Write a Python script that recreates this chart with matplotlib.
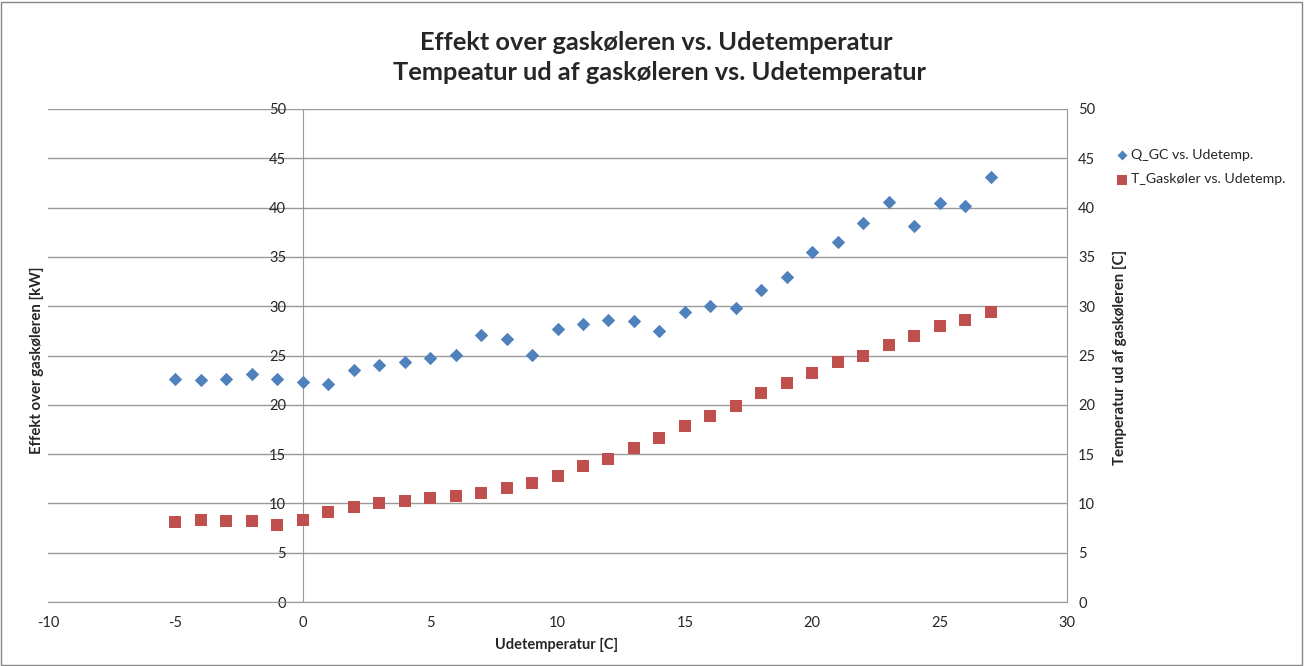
import numpy as np
import matplotlib
matplotlib.use("Agg")
import matplotlib.pyplot as plt
from matplotlib.patches import Rectangle

plt.rcParams['font.family'] = ['Lato', 'DejaVu Sans']
plt.rcParams['axes.unicode_minus'] = False

# Udetemperatur [C]
udetemp = list(range(-5, 28))

# Effekt over gaskøleren [kW]
q_gc = [22.6, 22.5, 22.6, 23.1, 22.6, 22.3, 22.1, 23.5, 24.0, 24.3, 24.7,
        25.1, 27.1, 26.7, 25.1, 27.7, 28.2, 28.6, 28.5, 27.5, 29.4, 30.0,
        29.8, 31.6, 33.0, 35.5, 36.5, 38.4, 40.6, 38.1, 40.5, 40.2, 43.1]

# Temperatur ud af gaskøleren [C]
t_gaskoler = [8.1, 8.3, 8.2, 8.2, 7.8, 8.3, 9.1, 9.6, 10.0, 10.2, 10.5,
              10.8, 11.1, 11.6, 12.1, 12.8, 13.8, 14.5, 15.6, 16.6, 17.8, 18.9,
              19.9, 21.2, 22.2, 23.2, 24.3, 25.0, 26.1, 27.0, 28.0, 28.6, 29.4]

xticks = np.arange(-10, 31, 5)
yticks = np.arange(0, 51, 5)

blaa = '#4F81BD'
roed = '#C0504D'
gitter = '#9a9a9a'
tekst = '#262626'

W, H = 1304, 666
fig = plt.figure(figsize=(W / 100, H / 100), dpi=100)
ax = fig.add_axes([48 / W, 1 - 602 / H, (1067 - 48) / W, (602 - 109) / H])
ax2 = ax.twinx()

ax.scatter(udetemp, q_gc, marker='D', s=6.8 ** 2, color=blaa, zorder=3,
           linewidths=0, label='Q_GC vs. Udetemp.')
ax2.scatter(udetemp, t_gaskoler, marker='s', s=9.2 ** 2, color=roed, zorder=3,
            linewidths=0, label='T_Gaskøler vs. Udetemp.')

for a in (ax, ax2):
    a.set_xlim(-10, 30)
    a.set_ylim(0, 50)
    a.set_yticks(yticks)
    a.tick_params(length=0, labelsize=10.5, labelcolor=tekst)
    for s in a.spines.values():
        s.set_visible(False)

ax.set_xticks(xticks)
ax.yaxis.grid(True, color=gitter, lw=1)
ax.set_axisbelow(True)

# venstre akse krydser ved x = 0
ax.spines['left'].set_visible(True)
ax.spines['left'].set_position(('data', 0))
ax.spines['left'].set_color(gitter)
ax.spines['bottom'].set_visible(True)
ax.spines['bottom'].set_color(gitter)
ax2.spines['right'].set_visible(True)
ax2.spines['right'].set_color(gitter)
ax.tick_params(axis='y', pad=12)
ax.tick_params(axis='x', pad=10)
ax2.tick_params(axis='y', pad=8)

fig.text(0.503, 1 - 42 / H, 'Effekt over gaskøleren vs. Udetemperatur',
         ha='center', va='center', fontsize=18.3, fontweight='bold', color=tekst)
fig.text(0.506, 1 - 73 / H, 'Tempeatur ud af gaskøleren vs. Udetemperatur',
         ha='center', va='center', fontsize=18.3, fontweight='bold', color=tekst)

fig.text(37 / W, 1 - 360 / H, 'Effekt over gaskøleren [kW]', rotation=90,
         ha='center', va='center', fontsize=10.8, fontweight='bold', color=tekst)
fig.text(1120 / W, 1 - 357 / H, 'Temperatur ud af gaskøleren [C]', rotation=90,
         ha='center', va='center', fontsize=10.8, fontweight='bold', color=tekst)
fig.text(557 / W, 1 - 645 / H, 'Udetemperatur [C]',
         ha='center', va='center', fontsize=10.5, fontweight='bold', color=tekst)

h1, l1 = ax.get_legend_handles_labels()
h2, l2 = ax2.get_legend_handles_labels()
fig.legend(h1 + h2, l1 + l2, loc='upper left', bbox_to_anchor=(1108 / W, 1 - 143 / H),
           frameon=False, fontsize=10.2, handletextpad=0.0, markerscale=0.75,
           labelspacing=0.9, handlelength=1.2, borderaxespad=0, labelcolor=tekst)

fig.patches.append(Rectangle((1 / W, 1 / H), 1 - 3 / W, 1 - 3 / H, transform=fig.transFigure,
                             fill=False, edgecolor='#868686', lw=1))

fig.savefig('out.png', dpi=100)
